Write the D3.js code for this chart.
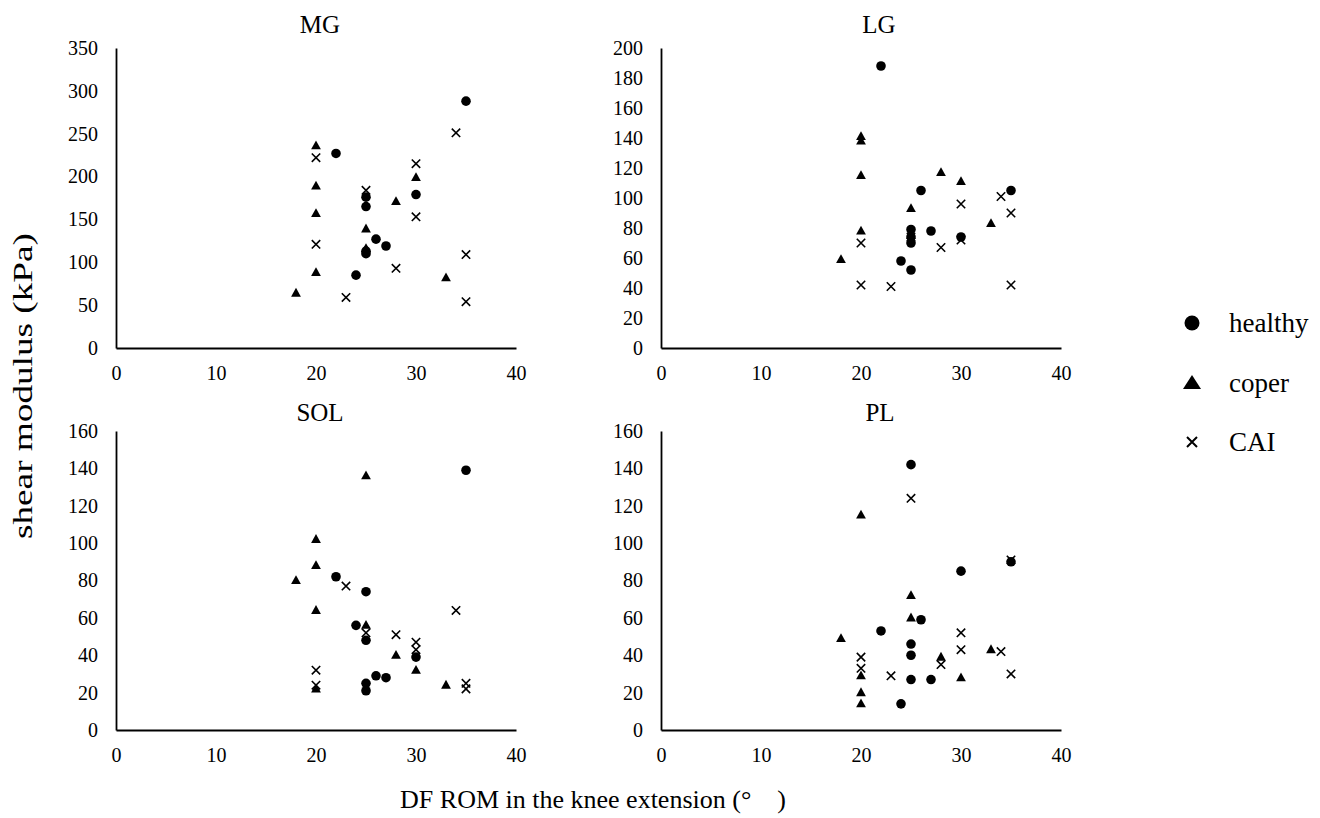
<!DOCTYPE html>
<html>
<head>
<meta charset="utf-8">
<script src="https://cdn.jsdelivr.net/npm/d3@7"></script>
<style>
  html, body { margin: 0; padding: 0; background: #fff; }
  svg { display: block; }
  text { font-family: "Liberation Serif", "Times New Roman", serif; fill: #000; }
</style>
</head>
<body>
<svg id="chart" width="1320" height="818"></svg>
<script>
// Shear modulus (kPa) vs DF ROM (deg) for four muscles, three groups.
const muscles = ["MG", "LG", "SOL", "PL"];
const groups = ["healthy", "coper", "CAI"];

// DF ROM of each participant per group
const healthyROM = [22, 24, 25, 25, 25, 25, 26, 27, 30, 35];
const coperROM   = [18, 20, 20, 20, 20, 25, 25, 28, 30, 33];
const caiROM     = [20, 20, 23, 25, 28, 30, 30, 34, 35, 35];

// Shear modulus per muscle, same participant order as the ROM arrays
const healthyMG  = [227, 85, 176, 165, 113, 110, 127, 119, 179, 288];
const healthyLG  = [188, 58, 79, 74, 70, 52, 105, 78, 74, 105];
const healthySOL = [82, 56, 74, 48, 25, 21, 29, 28, 39, 139];
const healthyPL  = [53, 14, 46, 40, 27, 142, 59, 27, 85, 90];

const coperMG  = [64, 236, 189, 157, 88, 139, 116, 171, 199, 82];
const coperLG  = [59, 141, 138, 115, 78, 93, 75, 117, 111, 83];
const coperSOL = [80, 102, 88, 64, 22, 136, 56, 40, 32, 24];
const coperPL  = [49, 115, 29, 20, 14, 72, 60, 39, 28, 43];

const caiMG  = [222, 121, 59, 184, 93, 215, 153, 251, 109, 54];
const caiLG  = [70, 42, 41, 74, 67, 96, 72, 101, 90, 42];
const caiSOL = [32, 24, 77, 52, 51, 47, 43, 64, 25, 22];
const caiPL  = [39, 33, 29, 124, 35, 52, 43, 42, 91, 30];

// Axis ranges and tick values
const xTicks = [0, 10, 20, 30, 40];
const yMaxMG = 350, yStepMG = 50;
const yMaxLG = 200, yStepLG = 20;
const yMaxSOL = 160, yStepSOL = 20;
const yMaxPL = 160, yStepPL = 20;

const xLabel = "DF ROM in the knee extension (°\u3000)";
const yLabel = "shear modulus (kPa)";

const series = {
  MG:  { healthy: healthyMG,  coper: coperMG,  CAI: caiMG },
  LG:  { healthy: healthyLG,  coper: coperLG,  CAI: caiLG },
  SOL: { healthy: healthySOL, coper: coperSOL, CAI: caiSOL },
  PL:  { healthy: healthyPL,  coper: coperPL,  CAI: caiPL }
};
const romOf = { healthy: healthyROM, coper: coperROM, CAI: caiROM };
const yAxisSpec = {
  MG: [yMaxMG, yStepMG], LG: [yMaxLG, yStepLG],
  SOL: [yMaxSOL, yStepSOL], PL: [yMaxPL, yStepPL]
};

// Panel layout (pixel frame of each plot area)
const layout = {
  MG:  { x0: 116, x1: 516,  y0: 348, y1: 48,  tx: 320, ty: 33 },
  LG:  { x0: 661, x1: 1061, y0: 348, y1: 48,  tx: 879, ty: 33 },
  SOL: { x0: 116, x1: 516,  y0: 730, y1: 431, tx: 320, ty: 421 },
  PL:  { x0: 661, x1: 1061, y0: 730, y1: 431, tx: 880, ty: 421 }
};

const svg = d3.select("#chart");
const serif = '"Liberation Serif", "Times New Roman", serif';

// Marker painters
function drawMarker(g, type, x, y, s) {
  if (type === "healthy") {
    g.append("circle").attr("cx", x).attr("cy", y).attr("r", 4.8 * s).attr("fill", "#000");
  } else if (type === "coper") {
    const w = 4.9 * s, h = 8.8 * s;
    g.append("path")
      .attr("d", `M${x},${y - h * 0.6}L${x + w},${y + h * 0.4}L${x - w},${y + h * 0.4}Z`)
      .attr("fill", "#000");
  } else {
    const r = 4.2 * s;
    g.append("path")
      .attr("d", `M${x - r},${y - r}L${x + r},${y + r}M${x - r},${y + r}L${x + r},${y - r}`)
      .attr("stroke", "#000").attr("stroke-width", 1.6).attr("fill", "none");
  }
}

muscles.forEach(m => {
  const L = layout[m];
  const [yMax, yStep] = yAxisSpec[m];
  const x = d3.scaleLinear().domain([0, 40]).range([L.x0, L.x1]);
  const y = d3.scaleLinear().domain([0, yMax]).range([L.y0, L.y1]);
  const g = svg.append("g").attr("class", "panel-" + m);

  const yAxis = d3.axisLeft(y)
    .tickValues(d3.range(0, yMax + 1, yStep))
    .tickSize(0).tickSizeOuter(0).tickPadding(18)
    .tickFormat(d3.format("d"));
  const xAxis = d3.axisBottom(x)
    .tickValues(xTicks)
    .tickSize(0).tickSizeOuter(0).tickPadding(18)
    .tickFormat(d3.format("d"));

  const ga = g.append("g").attr("transform", `translate(${L.x0},0)`).call(yAxis);
  const gb = g.append("g").attr("transform", `translate(0,${L.y0})`).call(xAxis);
  [ga, gb].forEach(a => {
    a.attr("font-family", serif);
    a.select(".domain").attr("stroke", "#000").attr("stroke-width", 1.8);
    a.selectAll("text").style("font-family", serif)
      .style("font-size", "20px").attr("fill", "#000");
  });

  g.append("text").attr("x", L.tx).attr("y", L.ty)
    .attr("text-anchor", "middle").style("font-size", "25px").text(m);

  const marks = g.append("g");
  groups.forEach(gr => {
    const vals = series[m][gr];
    const rom = romOf[gr];
    vals.forEach((v, i) => drawMarker(marks, gr, x(rom[i]), y(v), 1));
  });
});

// Legend
const legendY = [323, 383, 442];
groups.forEach((gr, i) => {
  const lg = svg.append("g");
  if (gr === "healthy") {
    lg.append("circle").attr("cx", 1192).attr("cy", legendY[i]).attr("r", 7.5).attr("fill", "#000");
  } else if (gr === "coper") {
    lg.append("path")
      .attr("d", `M1192,${legendY[i] - 8}L1201,${legendY[i] + 6}L1183,${legendY[i] + 6}Z`)
      .attr("fill", "#000");
  } else {
    const r = 5;
    const cy = legendY[i];
    lg.append("path")
      .attr("d", `M${1192 - r},${cy - r}L${1192 + r},${cy + r}M${1192 - r},${cy + r}L${1192 + r},${cy - r}`)
      .attr("stroke", "#000").attr("stroke-width", 2).attr("fill", "none");
  }
  lg.append("text").attr("x", 1229).attr("y", legendY[i] + 9)
    .style("font-size", "27px").text(gr);
});

// Axis titles
svg.append("text").attr("x", 593).attr("y", 808)
  .attr("text-anchor", "middle").style("font-size", "26px").text(xLabel);
svg.append("text")
  .attr("transform", "translate(32,386) rotate(-90)")
  .attr("text-anchor", "middle").style("font-size", "27px")
  .attr("textLength", 306).attr("lengthAdjust", "spacingAndGlyphs")
  .text(yLabel);
</script>
</body>
</html>
